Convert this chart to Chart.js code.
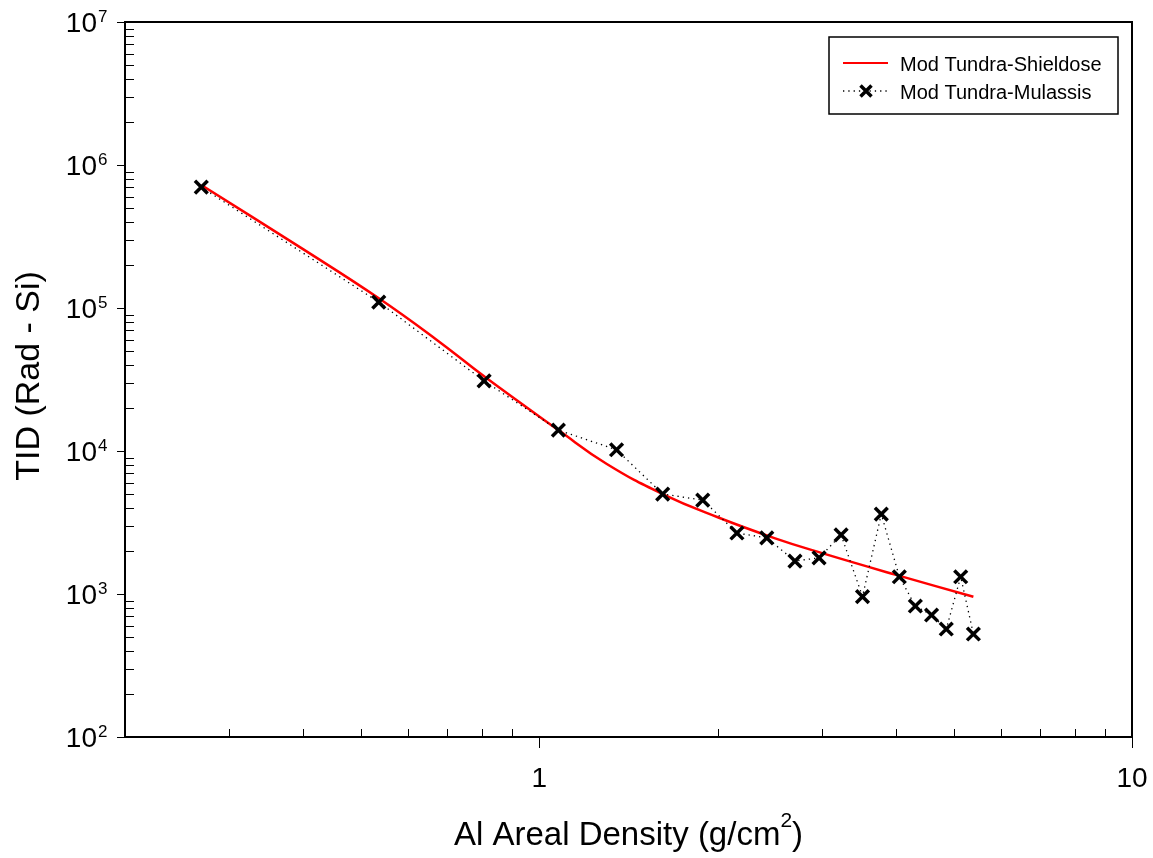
<!DOCTYPE html>
<html>
<head>
<meta charset="utf-8">
<script src="https://cdn.jsdelivr.net/npm/chart.js@4.4.1/dist/chart.umd.min.js"></script>
<style>
  html, body { margin: 0; padding: 0; background: #fff; }
</style>
</head>
<body>
<canvas id="c" width="1153" height="858"></canvas>
<script>
// TID vs aluminium areal density, Mod Tundra orbit

const shieldoseX = [0.269, 0.4, 0.536, 0.67, 0.81, 1.077, 1.3, 1.615, 2.0, 2.5, 3.0, 4.0, 5.4];
const shieldoseY = [724000, 257000, 117000, 60300, 32900, 14000, 8110, 5000, 3440, 2450, 1930, 1360, 957];

const mulassisX = [0.269, 0.536, 0.807, 1.077, 1.35, 1.615, 1.887, 2.155, 2.42, 2.70, 2.965, 3.23, 3.51, 3.776, 4.05, 4.31, 4.59, 4.86, 5.14, 5.40];
const mulassisY = [700000, 110000, 30900, 14000, 10200, 5000, 4540, 2670, 2470, 1700, 1790, 2590, 960, 3620, 1320, 824, 713, 569, 1320, 525];

const seriesNames = ['Mod Tundra-Shieldose', 'Mod Tundra-Mulassis'];
const xTickLabels = [1, 10];
const yTickExponents = [2, 3, 4, 5, 6, 7];

const FONT = "'Liberation Sans', Arial, sans-serif";

function toPoints(xs, ys) {
  return xs.map((x, i) => ({ x: x, y: ys[i] }));
}

// all 1..9 x 10^n values inside [min, max]
function logTicks(min, max) {
  const out = [];
  for (let e = Math.floor(Math.log10(min)); e <= Math.ceil(Math.log10(max)); e++) {
    for (let m = 1; m < 10; m++) {
      const v = m * Math.pow(10, e);
      if (v >= min * 0.999 && v <= max * 1.001) out.push({ v: v, major: m === 1 });
    }
  }
  return out;
}

function drawCross(ctx, x, y, r) {
  ctx.beginPath();
  ctx.moveTo(x - r, y - r); ctx.lineTo(x + r, y + r);
  ctx.moveTo(x - r, y + r); ctx.lineTo(x + r, y - r);
  ctx.stroke();
}

const axesPlugin = {
  id: 'axesAndLegend',
  afterDraw(chart) {
    const { ctx, chartArea: a, scales } = chart;
    const xs = scales.x, ys = scales.y;
    ctx.save();

    // tick marks
    ctx.strokeStyle = '#000';
    ctx.lineWidth = 1;
    logTicks(xs.min, xs.max).forEach(t => {
      const px = Math.round(xs.getPixelForValue(t.v)) + 0.5;
      ctx.beginPath();
      if (t.major) { ctx.moveTo(px, a.bottom); ctx.lineTo(px, a.bottom + 11); }
      else { ctx.moveTo(px, a.bottom); ctx.lineTo(px, a.bottom - 8); }
      ctx.stroke();
    });
    logTicks(ys.min, ys.max).forEach(t => {
      const py = Math.round(ys.getPixelForValue(t.v)) + 0.5;
      ctx.beginPath();
      if (t.major) { ctx.moveTo(a.left - 8, py); ctx.lineTo(a.left, py); }
      else { ctx.moveTo(a.left, py); ctx.lineTo(a.left + 9, py); }
      ctx.stroke();
    });

    // frame
    ctx.lineWidth = 2;
    ctx.strokeRect(a.left, a.top, a.right - a.left, a.bottom - a.top);

    // tick labels
    ctx.fillStyle = '#000';
    ctx.textBaseline = 'alphabetic';
    ctx.font = '28px ' + FONT;
    ctx.textAlign = 'center';
    xTickLabels.forEach(v => {
      ctx.fillText(String(v), xs.getPixelForValue(v), a.bottom + 50);
    });
    yTickExponents.forEach(e => {
      const py = ys.getPixelForValue(Math.pow(10, e));
      ctx.font = '28px ' + FONT;
      ctx.textAlign = 'right';
      ctx.fillText('10', 97, py + 10);
      ctx.font = '17px ' + FONT;
      ctx.textAlign = 'left';
      ctx.fillText(String(e), 98, py);
    });

    // x title with superscript
    const cx = (a.left + a.right) / 2;
    ctx.font = '33px ' + FONT;
    const t1 = 'Al Areal Density (g/cm', t3 = ')';
    const w1 = ctx.measureText(t1).width, w3 = ctx.measureText(t3).width;
    ctx.font = '21px ' + FONT;
    const w2 = ctx.measureText('2').width;
    let sx = cx - (w1 + w2 + w3) / 2;
    ctx.textAlign = 'left';
    ctx.font = '33px ' + FONT;
    ctx.fillText(t1, sx, 845);
    ctx.font = '21px ' + FONT;
    ctx.fillText('2', sx + w1, 827);
    ctx.font = '33px ' + FONT;
    ctx.fillText(t3, sx + w1 + w2, 845);

    // y title
    ctx.save();
    ctx.translate(39, 376);
    ctx.rotate(-Math.PI / 2);
    ctx.textAlign = 'center';
    ctx.font = '34px ' + FONT;
    ctx.fillText('TID (Rad - Si)', 0, 0);
    ctx.restore();

    // legend
    ctx.fillStyle = '#fff';
    ctx.fillRect(829, 37, 289, 77);
    ctx.lineWidth = 1.5;
    ctx.strokeStyle = '#000';
    ctx.strokeRect(829, 37, 289, 77);

    ctx.strokeStyle = '#ff0000';
    ctx.lineWidth = 2;
    ctx.beginPath(); ctx.moveTo(843, 63); ctx.lineTo(888, 63); ctx.stroke();

    ctx.strokeStyle = '#000';
    ctx.lineWidth = 1.3;
    ctx.setLineDash([1.3, 4]);
    ctx.beginPath(); ctx.moveTo(843, 91); ctx.lineTo(888, 91); ctx.stroke();
    ctx.setLineDash([]);
    ctx.lineWidth = 3.5;
    drawCross(ctx, 866, 91, 5.5);

    ctx.fillStyle = '#000';
    ctx.font = '20px ' + FONT;
    ctx.textAlign = 'left';
    ctx.fillText(seriesNames[0], 900, 70.5);
    ctx.fillText(seriesNames[1], 900, 98.5);

    ctx.restore();
  }
};

new Chart(document.getElementById('c'), {
  type: 'line',
  data: {
    datasets: [
      {
        label: seriesNames[1],
        data: toPoints(mulassisX, mulassisY),
        borderColor: '#000',
        borderWidth: 1.3,
        borderDash: [1.3, 4],
        pointStyle: 'crossRot',
        pointRadius: 9,
        pointBorderWidth: 3.5,
        pointBorderColor: '#000',
        pointBackgroundColor: '#000',
        tension: 0,
        order: 0
      },
      {
        label: seriesNames[0],
        data: toPoints(shieldoseX, shieldoseY),
        borderColor: '#ff0000',
        borderWidth: 2.5,
        pointRadius: 0,
        tension: 0.45,
        order: 1
      }
    ]
  },
  options: {
    responsive: false,
    animation: false,
    layout: { padding: { left: 125, right: 21, top: 22, bottom: 121 } },
    plugins: { legend: { display: false }, tooltip: { enabled: false } },
    scales: {
      x: { type: 'logarithmic', min: 0.2, max: 10, display: false },
      y: { type: 'logarithmic', min: 100, max: 10000000, display: false }
    }
  },
  plugins: [axesPlugin]
});
</script>
</body>
</html>
